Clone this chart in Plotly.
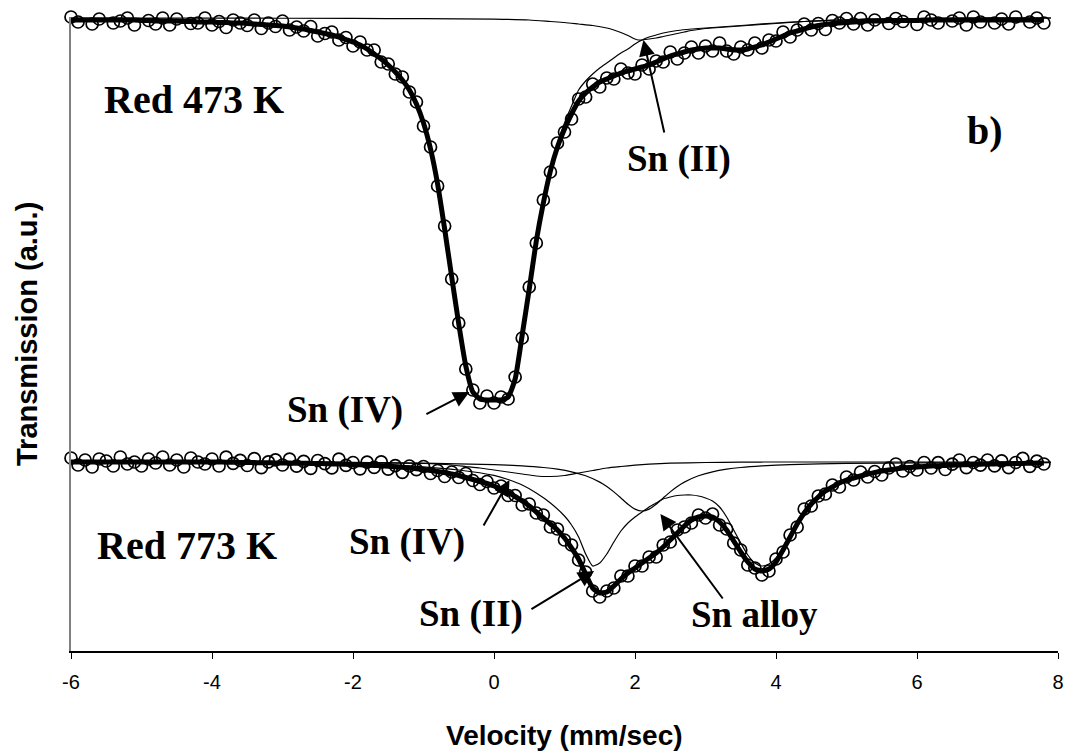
import plotly.graph_objects as go

# ---------------- data (y in arbitrary transmission units) ----------------
velocity = [-6.0, -5.9, -5.8, -5.7, -5.6, -5.5, -5.4, -5.3, -5.2, -5.1,
            -5.0, -4.9, -4.8, -4.7, -4.6, -4.5, -4.4, -4.3, -4.2, -4.1,
            -4.0, -3.9, -3.8, -3.7, -3.6, -3.5, -3.4, -3.3, -3.2, -3.1,
            -3.0, -2.9, -2.8, -2.7, -2.6, -2.5, -2.4, -2.3, -2.2, -2.1,
            -2.0, -1.9, -1.8, -1.7, -1.6, -1.5, -1.4, -1.3, -1.2, -1.1,
            -1.0, -0.9, -0.8, -0.7, -0.6, -0.5, -0.4, -0.3, -0.2, -0.1,
            0.0, 0.1, 0.2, 0.3, 0.4, 0.5, 0.6, 0.7, 0.8, 0.9,
            1.0, 1.1, 1.2, 1.3, 1.4, 1.5, 1.6, 1.7, 1.8, 1.9,
            2.0, 2.1, 2.2, 2.3, 2.4, 2.5, 2.6, 2.7, 2.8, 2.9,
            3.0, 3.1, 3.2, 3.3, 3.4, 3.5, 3.6, 3.7, 3.8, 3.9,
            4.0, 4.1, 4.2, 4.3, 4.4, 4.5, 4.6, 4.7, 4.8, 4.9,
            5.0, 5.1, 5.2, 5.3, 5.4, 5.5, 5.6, 5.7, 5.8, 5.9,
            6.0, 6.1, 6.2, 6.3, 6.4, 6.5, 6.6, 6.7, 6.8, 6.9,
            7.0, 7.1, 7.2, 7.3, 7.4, 7.5, 7.6, 7.7, 7.8]

# Red 473 K : measured points and total fit
red473_data = [634, 629, 635, 627, 632, 636, 628, 630, 633, 626,
               634.5, 630.5, 627, 633, 626, 632, 634.5, 627.5, 628, 633,
               626, 629.5, 623.5, 631, 628, 625.5, 631, 622.5, 628, 624.5,
               630, 621, 624, 620, 624.5, 615, 617.5, 619, 611, 613.5,
               605, 609, 601, 601, 589, 587, 577, 574, 559, 549,
               525, 504, 465, 425, 372, 328, 282, 261, 248, 255,
               248, 254, 252, 274, 313, 364, 408, 451, 479, 508,
               519, 532, 552, 554, 567, 564, 573, 572, 582, 578,
               577, 586, 582, 590, 589, 599, 592, 598, 604, 598,
               605, 600, 608, 600, 597, 604, 601, 608, 603, 611,
               610, 619, 614, 621, 627, 621, 627.5, 621.5, 630.5, 628,
               632.5, 627, 632.5, 626, 631, 635, 627.5, 632.5, 629.5, 634.5,
               626.5, 634, 631, 628, 636, 630, 633, 626, 634, 629,
               635, 628, 632, 627, 634, 636, 629, 633, 628]
red473_fit = [631, 631, 631, 631, 631, 631, 631, 631, 631, 631,
              630.5, 630.5, 630, 630, 630, 630, 629.5, 629.5, 629, 629,
              629, 628.5, 628.5, 628, 628, 627.5, 627, 626.5, 626, 625.5,
              625, 624, 623, 622, 620.5, 619, 617.5, 616, 614, 611.5,
              609, 606, 602, 597, 592, 586, 579, 571, 561, 547,
              528, 502, 467, 422, 374, 327, 285, 259, 252, 251,
              251, 251, 254, 272, 316, 362, 410, 448, 480, 504,
              522, 537, 550, 558, 564, 569, 572, 575, 578, 580,
              582, 584, 586, 589, 592, 595, 597, 599, 601, 602,
              603, 603, 603, 602, 601, 601, 602, 604, 606, 609,
              612, 615, 618, 620, 622, 624, 625.5, 626.5, 627.5, 628,
              628.5, 629, 629.5, 630, 630, 630, 630.5, 630.5, 630.5, 630.5,
              630.5, 631, 631, 631, 631, 631, 631, 631, 631, 631,
              631, 631, 631, 631, 631, 631, 631, 631, 631]

# Red 473 K : components
r473_sn4_v = [-6, -5, -4, -3.5, -3.0, -2.8, -2.6, -2.4, -2.2, -2.0, -1.8, -1.6, -1.4, -1.2, -1.1,
              -1.0, -0.9, -0.8, -0.7, -0.6, -0.5, -0.4, -0.3, -0.2, -0.1, 0.0, 0.1, 0.2, 0.3, 0.4,
              0.5, 0.6, 0.7, 0.8, 0.9, 1.0, 1.1, 1.2, 1.3, 1.4, 1.5, 1.6, 1.7, 1.8, 1.9,
              2.0, 2.1, 2.2, 2.3, 2.4, 2.6, 2.8, 3.0, 3.3, 3.6, 4.0, 4.4, 4.8, 5.2, 6.0, 7.0, 7.9]
r473_sn4_y = [632.5, 632, 630, 628.5, 626, 624, 621.5, 618.5, 615, 610, 603, 593, 580, 562, 548,
              529, 503, 468, 423, 375, 328, 286, 260, 253, 252, 252, 252, 255, 273, 317,
              364, 412, 451, 483, 508, 528, 545, 561, 570, 577, 583, 588, 593, 598, 602,
              607, 611, 614, 616, 618, 620.5, 622, 623, 624.5, 626, 628, 629.5, 630.8, 631.6, 632.4, 632.8, 633]
r473_sn2_v = [-6, -4, -2, -1, 0, 0.5, 0.8, 1.0, 1.2, 1.4, 1.6, 1.7, 1.8, 1.9, 2.0, 2.05, 2.1,
              2.2, 2.3, 2.4, 2.5, 2.6, 2.7, 2.8, 2.9, 3.0, 3.2, 3.4, 3.6, 3.8, 4.0, 4.2, 4.4,
              4.6, 5.0, 5.5, 6.0, 7.0, 7.9]
r473_sn2_y = [633, 632.9, 632.6, 632.3, 631.8, 631, 629.5, 628.5, 627, 625.5, 623, 621, 618.5, 615.5, 612, 611, 611,
              612, 613, 614.5, 616, 617.5, 619, 620.5, 621.5, 622.5, 623.5, 624.5, 625.5, 626.5, 627.5, 628.5, 629.5,
              630.2, 631.2, 632, 632.4, 632.8, 633]

# Red 773 K : measured points and total fit
red773_data = [193, 186, 191, 184, 192, 190, 185, 194, 187, 189,
               185, 192, 188, 194, 186, 191, 184, 193, 189, 187,
               192, 185, 193.8, 187.7, 190.6, 185.5, 192.4, 183.3, 189.2, 191.1,
               186, 191.9, 184.8, 189.7, 182.6, 190.5, 187.3, 183.1, 191.9, 185.7,
               188.5, 182.2, 188.9, 183.6, 189.2, 181.8, 185.3, 178.7, 185, 181.3,
               184.5, 177.5, 180.5, 174.5, 179, 173.5, 177.5, 170.5, 166.5, 169.5,
               163, 165, 155.5, 155.5, 146, 147, 138, 136, 124, 122,
               111, 106, 91, 79, 60, 54, 60, 63, 75, 75,
               85, 85, 94, 94, 106, 109, 121, 124, 128, 136,
               133, 137, 126, 122, 108, 101, 86, 83, 76, 80,
               92, 99, 116, 124, 142, 145, 155, 157, 166, 164,
               174, 171, 179, 174, 179.5, 176, 183, 187, 180, 184.5,
               181, 188.5, 183, 188.3, 181.5, 186.8, 191, 183.3, 188.5, 185.8,
               191, 185.1, 190.2, 183.3, 188.5, 192.6, 184.7, 189.9, 187]
red773_fit = [189, 189, 189, 189, 189, 189, 189, 189, 189, 189,
              189, 189, 189, 189, 189, 189, 189, 189, 189, 189,
              189, 189, 188.8, 188.7, 188.6, 188.5, 188.4, 188.3, 188.2, 188.1,
              188, 187.9, 187.8, 187.7, 187.6, 187.5, 187.3, 187.1, 186.9, 186.7,
              186.5, 186.2, 185.9, 185.6, 185.2, 184.8, 184.3, 183.7, 183, 182.3,
              181.5, 180.5, 179.5, 178.5, 177, 175.5, 173.5, 171.5, 169.5, 167.5,
              165, 162, 158.5, 154.5, 150, 145, 139, 133, 127, 121,
              113, 103, 92, 77, 63, 58, 59, 65, 72, 78,
              83, 88, 93, 98, 104, 111, 118, 125, 131, 134,
              135, 134, 129, 121, 110, 99, 89, 82, 80, 82,
              89, 101, 114, 127, 138, 147, 154, 160, 164, 168,
              171, 173, 175, 177, 178.5, 180, 181, 182, 183, 183.5,
              184, 184.5, 185, 185.3, 185.5, 185.8, 186, 186.3, 186.5, 186.8,
              187, 187.1, 187.2, 187.3, 187.5, 187.6, 187.7, 187.9, 188]

# Red 773 K : components
r773_sn4_v = [-6, -3, -2, -1.5, -1.0, -0.6, -0.4, -0.2, 0, 0.2, 0.4, 0.6, 0.8, 1.0, 1.2, 1.4, 1.6,
              1.8, 2.0, 2.2, 2.5, 3.0, 3.5, 4.0, 7.9]
r773_sn4_y = [189, 188.9, 188.7, 188.2, 187.5, 186, 184.5, 183, 181, 179, 177, 175, 174.5, 175.5, 178, 180.5, 183,
              184.5, 185.8, 186.8, 187.8, 188.5, 188.9, 189, 189]
r773_alloy_v = [-6, -4, -2, -1, 0, 0.4, 0.7, 0.9, 1.1, 1.3, 1.5, 1.6, 1.7, 1.8, 1.9, 2.0, 2.1, 2.2,
                2.3, 2.4, 2.5, 2.6, 2.7, 2.9, 3.1, 3.3, 3.5, 3.8, 4.2, 5.0, 6.0, 7.9]
r773_alloy_y = [188.8, 188.6, 188.3, 187.8, 186.4, 185.1, 183.5, 181.8, 179.2, 175.2, 168.9, 164.5, 159.1, 153, 146.8, 141.9, 140, 141.9,
                146.8, 153, 159.1, 164.5, 168.9, 175.2, 179.2, 181.8, 183.5, 185.1, 186.4, 187.6, 188.2, 188.6]
r773_sn2_v = [-6, -4, -2, -1.5, -1, -0.5, 0, 0.2, 0.4, 0.6, 0.8, 1.0, 1.1, 1.2, 1.3, 1.4, 1.5, 1.6, 1.7,
              1.8, 1.9, 2.0, 2.1, 2.2, 2.3, 2.4, 2.5, 2.6, 2.7, 2.8, 2.9, 3.0, 3.1, 3.2, 3.3, 3.4, 3.5,
              3.6, 3.7, 3.8, 3.9, 4.0, 4.1, 4.2, 4.3, 4.4, 4.5, 4.6, 4.8, 5.0, 5.2, 5.4, 5.6, 6.0, 6.4,
              6.8, 7.2, 7.9]
r773_sn2_y = [188.7, 188.4, 187.5, 186.5, 184.2, 181, 175.6, 171.5, 166, 158, 148, 135, 126, 114, 97, 85, 88, 97, 109,
              120, 128, 134, 139, 144, 148, 152, 154, 155.5, 156, 156, 155, 153, 150, 144, 134, 121, 108,
              96, 88, 85, 87, 93, 104, 117, 129.4, 140.2, 149, 156, 165.6, 172.4, 176.3, 179.6, 182, 184.8, 186.2,
              187.1, 187.7, 188.4]

x_ticks = [-6, -4, -2, 0, 2, 4, 6, 8]

# ---------------- figure ----------------
fig = go.Figure()

thin = dict(color="black", width=1.2, shape="spline", smoothing=0.6)
thick = dict(color="black", width=5, shape="spline", smoothing=0.5)
marker = dict(symbol="circle-open", size=12, color="black", line=dict(color="black", width=1.7))

for vx, vy in [(velocity, red473_data), (velocity, red773_data)]:
    fig.add_trace(go.Scatter(x=vx, y=vy, mode="markers", marker=marker, cliponaxis=False,
                             showlegend=False, hoverinfo="skip"))

for vx, vy in [(r473_sn4_v, r473_sn4_y), (r473_sn2_v, r473_sn2_y),
               (r773_sn4_v, r773_sn4_y), (r773_alloy_v, r773_alloy_y), (r773_sn2_v, r773_sn2_y)]:
    fig.add_trace(go.Scatter(x=vx, y=vy, mode="lines", line=thin, cliponaxis=False,
                             showlegend=False, hoverinfo="skip"))

for vx, vy in [(velocity, red473_fit), (velocity, red773_fit)]:
    fig.add_trace(go.Scatter(x=vx, y=vy, mode="lines", line=thick, cliponaxis=False,
                             showlegend=False, hoverinfo="skip"))

serif = "Liberation Serif, Times New Roman, serif"
sans = "Liberation Sans, Arial, sans-serif"

labels = [
    ("Red 473 K", -4.25, 552, 40),
    ("b)", 6.96, 521, 40),
    ("Sn (II)", 2.62, 492, 37),
    ("Sn (IV)", -2.12, 241, 37),
    ("Red 773 K", -4.35, 106, 40),
    ("Sn (IV)", -1.23, 109, 37),
    ("Sn (II)", -0.33, 37, 37),
    ("Sn alloy", 3.69, 37, 37),
]
for txt, x, y, s in labels:
    fig.add_annotation(x=x, y=y, xref="x", yref="y", text="<b>%s</b>" % txt, showarrow=False,
                       font=dict(family=serif, size=s, color="black"),
                       xanchor="center", yanchor="middle")

arrows = [
    # (tip_x, tip_y, tail_x, tail_y)
    (2.12, 611, 2.42, 517),
    (-0.35, 259, -0.98, 236),
    (0.22, 171, -0.16, 124),
    (1.42, 80, 0.51, 41),
    (2.36, 137, 3.26, 51),
]
for tx, ty, sx, sy in arrows:
    fig.add_annotation(x=tx, y=ty, ax=sx, ay=sy, xref="x", yref="y", axref="x", ayref="y",
                       text="", showarrow=True, arrowhead=2, arrowsize=1.6, arrowwidth=2,
                       arrowcolor="black", standoff=0)

# axis titles
fig.add_annotation(x=0.5, y=0, xref="paper", yref="paper", yshift=-84,
                   text="<b>Velocity (mm/sec)</b>", showarrow=False,
                   font=dict(family=sans, size=28, color="black"), xanchor="center", yanchor="middle")
fig.add_annotation(x=0, y=0.5, xref="paper", yref="paper", xshift=-44, textangle=-90,
                   text="<b>Transmission (a.u.)</b>", showarrow=False,
                   font=dict(family=sans, size=29, color="black"), xanchor="center", yanchor="middle")

# the page adds an 8px body margin, so the figure is sized/offset to land on the reference pixels
fig.update_layout(
    width=1064, height=744,
    margin=dict(l=63, r=8, t=9, b=101),
    paper_bgcolor="white", plot_bgcolor="white",
    showlegend=False,
    xaxis=dict(range=[-6, 8], tickvals=x_ticks, ticktext=[str(t) for t in x_ticks],
               showgrid=False, zeroline=False, showline=True, linecolor="black", linewidth=1.5,
               ticks="outside", ticklen=6, tickcolor="black", tickwidth=1.2, ticklabelstandoff=6,
               tickfont=dict(family=sans, size=20, color="black")),
    yaxis=dict(range=[0, 634], showgrid=False, zeroline=False, showline=True, linecolor="#808080",
               linewidth=1.5, showticklabels=False, ticks=""),
)

fig.write_html("out.html")
